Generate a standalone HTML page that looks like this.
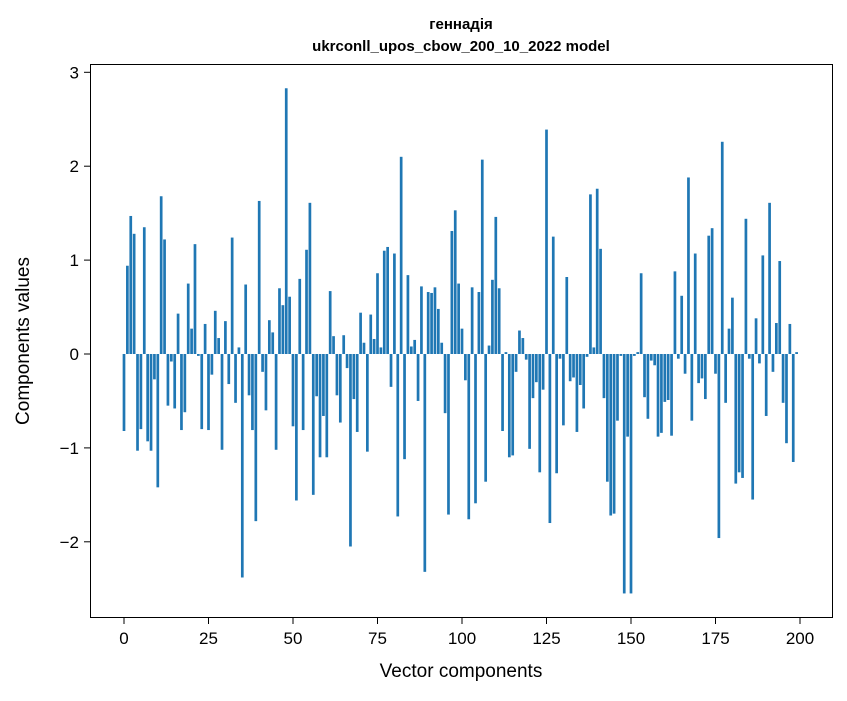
<!DOCTYPE html>
<html><head><meta charset="utf-8"><style>
body{margin:0;background:#fff;font-family:"Liberation Sans","DejaVu Sans",sans-serif;}
svg text{font-family:"Liberation Sans","DejaVu Sans",sans-serif;}
</style></head><body>
<svg id="chart" width="847" height="696" xmlns="http://www.w3.org/2000/svg">
<rect width="847" height="696" fill="#fff"/>
<text x="461" y="29" text-anchor="middle" font-size="15" font-weight="bold">геннадія</text>
<text x="461" y="51" text-anchor="middle" font-size="15" font-weight="bold">ukrconll_upos_cbow_200_10_2022 model</text>
<g id="bars"></g>
<rect x="90.5" y="64.5" width="742" height="553" fill="none" stroke="#000" stroke-width="1"/>
<g id="xaxis"></g>
<g id="yaxis"></g>
<text x="461" y="677" text-anchor="middle" font-size="19">Vector components</text>
<text transform="translate(29,341) rotate(-90)" text-anchor="middle" font-size="19">Components values</text>
</svg>
<script>
const values=[-0.82,0.94,1.47,1.28,-1.03,-0.80,1.35,-0.93,-1.03,-0.27,-1.42,1.68,1.22,-0.55,-0.08,-0.58,0.43,-0.81,-0.62,0.75,0.27,1.17,-0.02,-0.80,0.32,-0.81,-0.22,0.46,0.17,-1.02,0.35,-0.32,1.24,-0.52,0.07,-2.38,0.74,-0.44,-0.81,-1.78,1.63,-0.19,-0.60,0.36,0.23,-1.02,0.70,0.52,2.83,0.61,-0.77,-1.56,0.80,-0.81,1.11,1.61,-1.50,-0.45,-1.10,-0.66,-1.10,0.67,0.19,-0.44,-0.73,0.20,-0.15,-2.05,-0.48,-0.83,0.44,0.12,-1.04,0.42,0.16,0.86,0.07,1.10,1.14,-0.35,1.07,-1.73,2.10,-1.12,0.84,0.08,0.15,-0.50,0.72,-2.32,0.66,0.65,0.71,0.48,0.12,-0.63,-1.71,1.31,1.53,0.75,0.27,-0.28,-1.76,0.71,-1.59,0.66,2.07,-1.36,0.09,0.79,1.46,0.70,-0.82,0.02,-1.10,-1.08,-0.19,0.25,0.17,-0.06,-1.01,-0.47,-0.30,-1.26,-0.38,2.39,-1.80,1.25,-1.27,-0.05,-0.76,0.82,-0.29,-0.25,-0.83,-0.33,-0.58,-0.03,1.70,0.07,1.76,1.12,-0.47,-1.36,-1.72,-1.70,-0.71,-0.02,-2.55,-0.88,-2.55,-0.02,0.02,0.86,-0.46,-0.69,-0.07,-0.12,-0.88,-0.84,-0.51,-0.49,-0.87,0.88,-0.05,0.62,-0.21,1.88,-0.71,1.07,-0.31,-0.26,-0.48,1.26,1.34,-0.21,-1.96,2.26,-0.52,0.27,0.60,-1.38,-1.26,-1.32,1.44,-0.05,-1.55,0.38,-0.10,1.05,-0.66,1.61,-0.19,0.33,0.99,-0.52,-0.95,0.32,-1.15,0.02];
const xTicks=[0,25,50,75,100,125,150,175,200];
const yTicks=[-2,-1,0,1,2,3];
const yTickLabels=["\u22122","\u22121","0","1","2","3"];
const NS="http://www.w3.org/2000/svg";
function xs(v){return 124+v*3.38;}
function ys(v){return 354-v*93.9;}
const bars=document.getElementById('bars');
values.forEach((v,i)=>{
  const r=document.createElementNS(NS,'rect');
  
  
  const y0=ys(0),y1=ys(v);
  r.setAttribute('x',xs(i-0.4));
  r.setAttribute('width',3.38*0.8);
  r.setAttribute('y',Math.min(y0,y1));
  r.setAttribute('height',Math.max(Math.abs(y1-y0),0.01));
  r.setAttribute('fill','#1f77b4');
  bars.appendChild(r);
});
const xa=document.getElementById('xaxis');
xTicks.forEach(t=>{
  const l=document.createElementNS(NS,'line');
  
  
  l.setAttribute('x1',xs(t));l.setAttribute('x2',xs(t));
  l.setAttribute('y1',618);l.setAttribute('y2',624);
  l.setAttribute('stroke','#000');
  xa.appendChild(l);
  const tx=document.createElementNS(NS,'text');
  
  
  tx.setAttribute('x',xs(t));tx.setAttribute('y',644);
  tx.setAttribute('text-anchor','middle');tx.setAttribute('font-size','17');
  tx.textContent=t;
  xa.appendChild(tx);
});
const ya=document.getElementById('yaxis');
yTicks.forEach((t,i)=>{
  const l=document.createElementNS(NS,'line');
  
  
  l.setAttribute('x1',84);l.setAttribute('x2',90);
  l.setAttribute('y1',ys(t));l.setAttribute('y2',ys(t));
  l.setAttribute('stroke','#000');
  ya.appendChild(l);
  const tx=document.createElementNS(NS,'text');
  
  
  tx.setAttribute('x',79);tx.setAttribute('y',ys(t)+6);
  tx.setAttribute('text-anchor','end');tx.setAttribute('font-size','17');
  tx.textContent=yTickLabels[i];
  ya.appendChild(tx);
});
</script>
</body></html>
